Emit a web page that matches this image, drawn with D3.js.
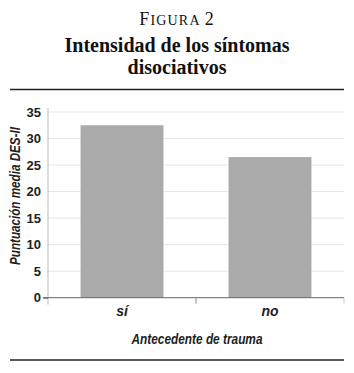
<!DOCTYPE html>
<html>
<head>
<meta charset="utf-8">
<script src="https://cdn.jsdelivr.net/npm/d3@7"></script>
<style>
  body { margin: 0; background: #fff; }
  svg { display: block; }
</style>
</head>
<body>
<div id="chart"></div>
<script>
var categories = ["sí", "no"];
var values = [32.5, 26.5];
var yTicks = [0, 5, 10, 15, 20, 25, 30, 35];

var W = 354, H = 373;
var plot = {left: 48, right: 344, top: 112, bottom: 297.7};
var sans = "'Liberation Sans', Arial, sans-serif";
var serif = "'Liberation Serif', 'DejaVu Serif', serif";

var svg = d3.select("#chart").append("svg")
    .attr("width", W)
    .attr("height", H);

// header
var fig = svg.append("text")
    .attr("x", W / 2)
    .attr("y", 24.5)
    .attr("text-anchor", "middle")
    .style("font-family", serif)
    .style("letter-spacing", "1.2px")
    .style("fill", "#111");
fig.append("tspan").style("font-size", "18px").text("F");
fig.append("tspan").style("font-size", "14px").text("IGURA ");
fig.append("tspan").style("font-size", "18px").text("2");

svg.append("text")
    .attr("x", W / 2)
    .attr("y", 52)
    .attr("text-anchor", "middle")
    .style("font-family", serif)
    .style("font-weight", "bold")
    .style("font-size", "20px")
    .style("fill", "#111")
    .text("Intensidad de los síntomas");

svg.append("text")
    .attr("x", W / 2)
    .attr("y", 74)
    .attr("text-anchor", "middle")
    .style("font-family", serif)
    .style("font-weight", "bold")
    .style("font-size", "20px")
    .style("fill", "#111")
    .text("disociativos");

svg.append("line")
    .attr("x1", 10).attr("x2", 344)
    .attr("y1", 89.5).attr("y2", 89.5)
    .attr("stroke", "#222").attr("stroke-width", 1.5);

svg.append("line")
    .attr("x1", 10).attr("x2", 344)
    .attr("y1", 360).attr("y2", 360)
    .attr("stroke", "#222").attr("stroke-width", 1.5);

// scales
var x = d3.scaleBand()
    .domain(categories)
    .range([plot.left, plot.right])
    .paddingInner(0.44)
    .paddingOuter(0.22);

var y = d3.scaleLinear()
    .domain([0, 35])
    .range([plot.bottom, plot.top]);

// gridlines
svg.append("g")
    .selectAll("line")
    .data(yTicks.slice(1))
    .enter().append("line")
    .attr("x1", plot.left).attr("x2", plot.right)
    .attr("y1", function(d) { return y(d); })
    .attr("y2", function(d) { return y(d); })
    .attr("stroke", "#e4e4e4")
    .attr("stroke-width", 1);

// bars
svg.append("g")
    .selectAll("rect")
    .data(values)
    .enter().append("rect")
    .attr("x", function(d, i) { return x(categories[i]); })
    .attr("width", x.bandwidth())
    .attr("y", function(d) { return y(d); })
    .attr("height", function(d) { return y(0) - y(d); })
    .attr("fill", "#aaaaaa");

// y axis
var yAxis = svg.append("g")
    .attr("transform", "translate(" + plot.left + ",0)")
    .call(d3.axisLeft(y).tickValues(yTicks).tickSize(5).tickPadding(2));
yAxis.select(".domain").attr("stroke", "#bbb").attr("d", "M0," + (plot.top - 4) + "V" + (plot.bottom + 7));
yAxis.selectAll(".tick line").attr("stroke", function(d) { return d === 0 ? "#666" : "none"; });
yAxis.selectAll(".tick text")
    .style("font-family", sans)
    .style("font-weight", "bold")
    .style("font-size", "13px")
    .style("fill", "#222");

// x axis
var xAxis = svg.append("g")
    .attr("transform", "translate(0," + plot.bottom + ")");
xAxis.append("line")
    .attr("x1", plot.left - 5).attr("x2", plot.right)
    .attr("y1", 0).attr("y2", 0)
    .attr("stroke", "#666");
xAxis.selectAll(".sep")
    .data(categories.slice(1))
    .enter().append("line")
    .attr("class", "sep")
    .attr("x1", function(d) { return x(d) - x.step() * x.paddingInner() / 2; })
    .attr("x2", function(d) { return x(d) - x.step() * x.paddingInner() / 2; })
    .attr("y1", 0).attr("y2", 6)
    .attr("stroke", "#888");
xAxis.append("line")
    .attr("x1", plot.right).attr("x2", plot.right)
    .attr("y1", 0).attr("y2", 6)
    .attr("stroke", "#ccc");
xAxis.selectAll(".lab")
    .data(categories)
    .enter().append("text")
    .attr("class", "lab")
    .attr("x", function(d) { return x(d) + x.bandwidth() / 2; })
    .attr("y", 18)
    .attr("text-anchor", "middle")
    .style("font-family", sans)
    .style("font-weight", "bold")
    .style("font-style", "italic")
    .style("font-size", "14px")
    .style("fill", "#222")
    .text(function(d) { return d; });

// axis titles
svg.append("text")
    .attr("x", 197)
    .attr("y", 344)
    .attr("text-anchor", "middle")
    .attr("textLength", 131)
    .attr("lengthAdjust", "spacingAndGlyphs")
    .style("font-family", sans)
    .style("font-weight", "bold")
    .style("font-style", "italic")
    .style("font-size", "15px")
    .style("fill", "#222")
    .text("Antecedente de trauma");

svg.append("text")
    .attr("transform", "translate(20,196) rotate(-90)")
    .attr("text-anchor", "middle")
    .attr("textLength", 138)
    .attr("lengthAdjust", "spacingAndGlyphs")
    .style("font-family", sans)
    .style("font-weight", "bold")
    .style("font-style", "italic")
    .style("font-size", "14px")
    .style("fill", "#222")
    .text("Puntuación media DES-II");
</script>
</body>
</html>
